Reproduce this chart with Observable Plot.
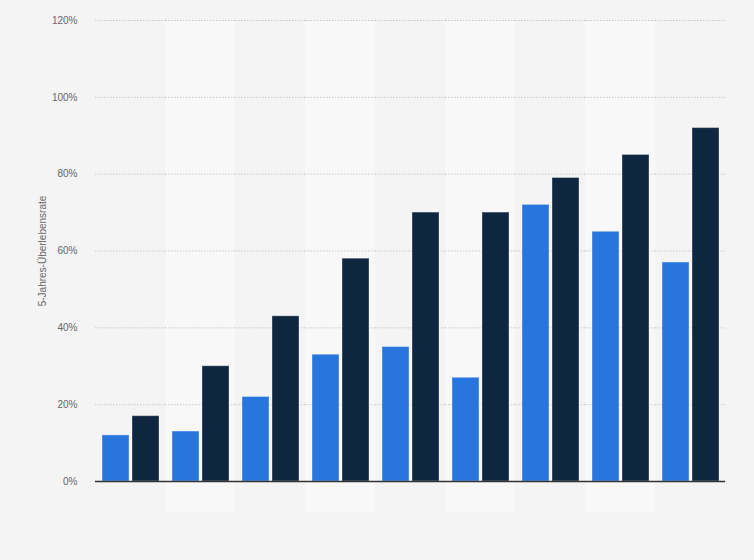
<!DOCTYPE html>
<html>
<head>
<meta charset="utf-8">
<script src="https://cdn.jsdelivr.net/npm/d3@7"></script>
<script src="https://cdn.jsdelivr.net/npm/@observablehq/plot@0.6"></script>
<style>
  html, body { margin: 0; padding: 0; background: #f4f4f4; }
  #chart svg { display: block; }
</style>
</head>
<body>
<div id="chart"></div>
<script>
const categories = ["K1", "K2", "K3", "K4", "K5", "K6", "K7", "K8", "K9"];
const seriesNames = ["Serie A", "Serie B"];
const seriesA = [12, 13, 22, 33, 35, 27, 72, 65, 57];
const seriesB = [17, 30, 43, 58, 70, 70, 79, 85, 92];
const yTicks = [0, 20, 40, 60, 80, 100, 120];
const colors = ["#2876dd", "#0f2640"];

const data = [];
categories.forEach((c, i) => {
  data.push({cat: c, series: seriesNames[0], value: seriesA[i]});
  data.push({cat: c, series: seriesNames[1], value: seriesB[i]});
});
const bands = categories.filter((c, i) => i % 2 === 1).map(c => ({cat: c}));

const chart = Plot.plot({
  width: 754,
  height: 560,
  marginLeft: 95,
  marginRight: 29,
  marginTop: 20,
  marginBottom: 79,
  style: {background: "#f4f4f4", fontFamily: "'Liberation Sans', Arial, sans-serif", fontSize: "10px", color: "#666"},
  fx: {domain: categories, padding: 0, axis: null},
  x: {domain: seriesNames, paddingInner: 0.1, paddingOuter: 0.2, axis: null},
  y: {domain: [0, 120], ticks: yTicks, tickFormat: d => d + "%", label: null, axis: null},
  color: {domain: seriesNames, range: colors},
  marks: [
    Plot.barY(bands, {fx: "cat", y1: -8, y2: 120, fill: "#f8f8f8", insetLeft: 0, insetRight: 0}),
    Plot.gridY(yTicks.filter(t => t > 0), {stroke: "#c8c8c8", strokeOpacity: 1, strokeDasharray: "1.5,1.5"}),
    Plot.axisY({ticks: yTicks, tickFormat: d => d + "%", tickSize: 0, tickPadding: 18, fill: "#666", fontSize: 10,
      label: "5-Jahres-Überlebensrate", labelArrow: "none", labelAnchor: "center", labelOffset: 57}),
    Plot.barY(data, {fx: "cat", x: "series", y: "value", fill: "series", stroke: "#ffffff", strokeOpacity: 0.35, strokeWidth: 1}),
    Plot.ruleY([0], {stroke: "#333", strokeWidth: 1.5})
  ]
});
document.getElementById("chart").appendChild(chart);
</script>
</body>
</html>
